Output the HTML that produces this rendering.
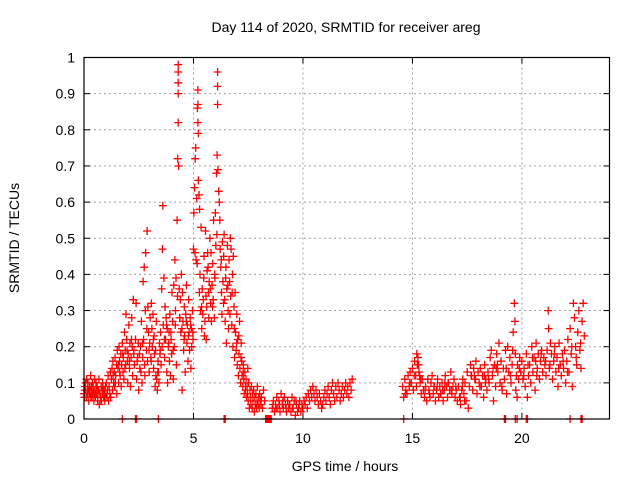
<!DOCTYPE html>
<html><head><meta charset="utf-8"><style>
html,body{margin:0;padding:0;background:#fff;}
svg{display:block;font-family:"Liberation Sans",sans-serif;}
</style></head><body>
<svg id="chart" width="640" height="480" viewBox="0 0 640 480">
<rect width="640" height="480" fill="#fff"/>
<text x="346" y="32" font-size="14" text-anchor="middle" fill="#000">Day 114 of 2020, SRMTID for receiver areg</text>
<text x="345" y="471" font-size="14" text-anchor="middle" fill="#000">GPS time / hours</text>
<text x="0" y="0" font-size="14" text-anchor="middle" fill="#000" transform="translate(19,238) rotate(-90)">SRMTID / TECUs</text>
<g id="grid"></g>
<g id="ticks"></g>
<g id="marks"></g>
<rect x="84" y="57.5" width="525.5" height="361.5" fill="none" stroke="#000" stroke-width="1.2"/>
</svg>
<script>
const xTicks = [0, 5, 10, 15, 20];
const yTicks = [0, 0.1, 0.2, 0.3, 0.4, 0.5, 0.6, 0.7, 0.8, 0.9, 1];
const yTickLabels = ["0","0.1","0.2","0.3","0.4","0.5","0.6","0.7","0.8","0.9","1"];
const times = [
0.00,0.02,0.05,0.08,0.10,0.12,0.15,0.18,0.20,0.22,
0.25,0.28,0.30,0.32,0.35,0.38,0.40,0.42,0.45,0.48,
0.50,0.52,0.55,0.58,0.60,0.62,0.65,0.68,0.70,0.72,
0.75,0.78,0.80,0.82,0.85,0.88,0.90,0.92,0.95,0.98,
1.00,1.02,1.05,1.08,1.10,1.12,1.15,1.18,1.20,1.22,
1.25,1.28,1.30,1.32,1.35,1.38,1.40,1.42,1.45,1.48,
1.50,1.52,1.55,1.58,1.60,1.62,1.65,1.68,1.70,1.72,
1.75,1.78,1.80,1.82,1.85,1.88,1.90,1.92,1.95,1.98,
2.00,2.02,2.05,2.08,2.10,2.12,2.15,2.18,2.20,2.22,
2.25,2.28,2.30,2.35,2.38,2.40,2.45,2.48,2.50,2.55,
2.58,2.60,2.62,2.65,2.68,2.70,2.72,2.75,2.78,2.80,
2.82,2.85,2.88,2.90,2.92,2.95,2.98,3.00,3.02,3.05,
3.08,3.10,3.12,3.15,3.18,3.20,3.22,3.25,3.28,3.30,
3.32,3.35,3.38,3.40,3.42,3.45,3.48,3.50,3.52,3.55,
3.58,3.60,3.62,3.65,3.68,3.70,3.72,3.75,3.78,3.80,
3.82,3.85,3.88,3.90,3.92,3.95,3.98,4.00,4.02,4.05,
4.08,4.10,4.12,4.15,4.18,4.20,4.22,4.25,4.28,4.30,
4.30,4.30,4.30,4.30,4.32,4.35,4.38,4.40,4.42,4.45,
4.48,4.50,4.52,4.55,4.58,4.60,4.62,4.65,4.68,4.70,
4.72,4.75,4.78,4.80,4.82,4.85,4.88,4.90,4.92,4.95,
4.98,5.00,5.02,5.05,5.08,5.10,5.12,5.15,5.18,5.20,
5.20,5.20,5.22,5.22,5.25,5.28,5.30,5.32,5.35,5.38,
5.40,5.42,5.45,5.48,5.50,5.52,5.55,5.58,5.60,5.62,
5.65,5.68,5.70,5.72,5.75,5.78,5.80,5.82,5.85,5.88,
5.90,5.92,5.95,5.98,6.00,6.02,6.05,6.08,6.10,6.10,
6.10,6.12,6.15,6.18,6.20,6.22,6.25,6.28,6.30,6.32,
6.35,6.38,6.40,6.42,6.45,6.48,6.50,6.52,6.55,6.58,
6.60,6.62,6.65,6.68,6.70,6.72,6.75,6.78,6.80,6.82,
6.85,6.88,6.90,6.92,6.95,6.98,7.00,7.02,7.05,7.08,
7.10,7.12,7.15,7.18,7.20,7.22,7.25,7.28,7.30,7.32,
7.35,7.38,7.40,7.42,7.45,7.48,7.50,7.52,7.55,7.58,
7.60,7.62,7.65,7.68,7.70,7.72,7.75,7.78,7.80,7.82,
7.85,7.88,7.90,7.92,7.95,7.98,8.00,8.02,8.05,8.08,
8.10,8.15,8.20,8.25,8.60,8.65,8.70,8.75,8.80,8.85,
8.90,8.95,9.00,9.05,9.10,9.15,9.20,9.25,9.30,9.35,
9.40,9.45,9.50,9.55,9.60,9.65,9.70,9.75,9.80,9.85,
9.90,9.95,10.00,10.05,10.10,10.15,10.20,10.25,10.30,10.35,
10.40,10.45,10.50,10.55,10.60,10.65,10.70,10.75,10.80,10.85,
10.90,10.95,11.00,11.05,11.10,11.15,11.20,11.25,11.30,11.35,
11.40,11.45,11.50,11.55,11.60,11.65,11.70,11.75,11.80,11.85,
11.90,11.95,12.00,12.05,12.10,12.15,12.20,12.25,14.55,14.60,
14.65,14.70,14.75,14.80,14.85,14.90,14.95,15.00,15.05,15.10,
15.15,15.20,15.22,15.25,15.30,15.35,15.40,15.45,15.50,15.55,
15.60,15.65,15.70,15.75,15.80,15.85,15.90,15.95,16.00,16.05,
16.10,16.15,16.20,16.25,16.30,16.35,16.40,16.45,16.50,16.55,
16.60,16.65,16.70,16.75,16.80,16.85,16.90,16.95,17.00,17.05,
17.10,17.15,17.20,17.25,17.30,17.35,17.40,17.45,17.50,17.55,
17.60,17.65,17.70,17.75,17.80,17.85,17.90,17.95,18.00,18.05,
18.10,18.15,18.20,18.25,18.30,18.35,18.40,18.45,18.50,18.55,
18.60,18.65,18.70,18.75,18.80,18.85,18.90,18.95,19.00,19.05,
19.10,19.15,19.20,19.25,19.30,19.35,19.40,19.45,19.50,19.55,
19.60,19.65,19.68,19.70,19.72,19.75,19.78,19.80,19.85,19.90,
19.95,20.00,20.05,20.10,20.15,20.20,20.25,20.30,20.35,20.40,
20.45,20.50,20.55,20.60,20.65,20.70,20.75,20.80,20.85,20.90,
20.95,21.00,21.05,21.10,21.15,21.20,21.22,21.25,21.30,21.35,
21.40,21.45,21.50,21.55,21.60,21.65,21.70,21.75,21.80,21.85,
21.90,21.95,22.00,22.05,22.10,22.15,22.20,22.25,22.30,22.35,
22.40,22.45,22.50,22.55,22.60,22.65,22.70,22.75,22.80,22.85,
0.03,0.07,0.13,0.17,0.23,0.27,0.33,0.37,0.43,0.47,
0.53,0.57,0.63,0.67,0.73,0.77,0.83,0.87,0.93,0.97,
8.63,8.78,8.93,9.08,9.23,9.38,9.53,9.68,9.83,9.98,
15.28,15.33,16.13,16.38,16.63,17.28,17.83,18.33,18.83,20.63,
1.33,1.43,1.57,1.63,1.77,1.87,1.97,2.07,2.17,2.27,
2.43,2.53,2.67,2.77,2.87,2.97,3.07,3.17,3.27,3.37,
3.47,3.57,3.67,3.77,3.87,3.97,4.07,4.17,4.27,4.37,
4.47,4.57,4.67,4.77,4.87,4.97,5.07,5.17,5.27,5.37,
5.47,5.57,5.67,5.77,5.87,5.97,6.07,6.27,6.37,6.47,
6.57,6.67,6.77,6.87,6.97,7.07,7.17,7.27,7.37,7.47,
14.68,14.88,15.08,15.18,15.38,15.58,15.78,15.98,16.28,16.48,
16.78,16.98,17.18,17.38,17.68,17.88,18.08,18.28,18.48,18.68,
18.88,19.08,19.28,19.48,19.58,19.88,20.08,20.28,20.48,20.68,
20.88,21.08,21.28,21.48,21.68,21.88,22.08,22.28,22.48,22.68,
1.75,2.35,2.40,3.40,6.40,6.45,8.30,8.35,8.40,8.45,
8.50,8.55,14.60,19.20,19.25,19.70,19.78,20.20,20.25,22.20,
22.70,22.75
];
const values = [
.07,.06,.09,.08,.06,.11,.07,.10,.08,.05,
.09,.07,.12,.06,.08,.10,.07,.09,.05,.11,
.08,.06,.10,.07,.09,.05,.08,.11,.04,.07,
.06,.09,.05,.08,.10,.07,.06,.08,.05,.09,
.07,.10,.06,.08,.12,.05,.09,.07,.13,.06,
.11,.14,.08,.16,.10,.13,.09,.17,.12,.15,
.07,.19,.14,.10,.20,.16,.12,.18,.09,.15,
.21,.13,.17,.11,.24,.19,.15,.29,.22,.16,
.10,.18,.26,.14,.21,.09,.17,.28,.20,.12,
.33,.19,.15,.22,.32,.11,.17,.21,.08,.14,
.20,.13,.27,.10,.17,.38,.22,.42,.12,.30,
.46,.19,.52,.16,.31,.24,.13,.21,.28,.17,
.32,.25,.20,.29,.14,.23,.18,.09,.12,.27,
.11,.08,.16,.13,.10,.21,.19,.24,.15,.36,
.47,.59,.26,.39,.17,.31,.22,.28,.13,.25,
.10,.20,.24,.16,.29,.12,.22,.18,.35,.27,
.11,.37,.20,.44,.30,.39,.15,.55,.72,.98,
.96,.93,.90,.82,.70,.36,.28,.33,.24,.40,
.08,.35,.27,.19,.31,.23,.13,.29,.37,.21,
.26,.16,.33,.24,.19,.28,.14,.25,.20,.30,
.22,.47,.57,.64,.72,.75,.44,.61,.86,.91,
.82,.87,.79,.66,.62,.58,.40,.30,.53,.25,
.36,.29,.33,.45,.23,.27,.52,.22,.31,.41,
.46,.35,.28,.38,.50,.32,.46,.27,.37,.43,
.33,.55,.28,.39,.57,.48,.68,.73,.96,.92,
.87,.69,.63,.60,.55,.47,.42,.35,.29,.49,
.38,.45,.51,.33,.27,.42,.21,.36,.48,.30,
.25,.44,.38,.50,.34,.47,.26,.40,.20,.45,
.31,.17,.35,.24,.19,.29,.15,.22,.12,.18,
.27,.14,.10,.21,.16,.12,.09,.15,.11,.07,
.13,.08,.11,.06,.09,.14,.05,.10,.03,.08,
.06,.04,.09,.03,.07,.05,.08,.02,.06,.04,
.07,.03,.05,.09,.04,.06,.03,.07,.05,.04,
.06,.03,.08,.05,.03,.05,.02,.04,.06,.03,
.05,.02,.07,.04,.03,.06,.04,.02,.05,.03,
.04,.02,.06,.03,.05,.01,.04,.02,.03,.05,
.02,.04,.03,.05,.04,.06,.03,.07,.05,.08,
.06,.09,.07,.05,.08,.06,.04,.07,.05,.03,
.04,.06,.08,.05,.07,.09,.06,.04,.08,.10,
.07,.05,.09,.06,.10,.08,.05,.07,.09,.06,
.08,.10,.07,.09,.06,.10,.08,.11,.09,.06,
.11,.08,.07,.12,.09,.13,.10,.14,.08,.16,
.12,.18,.15,.17,.13,.10,.07,.11,.08,.06,
.09,.05,.11,.08,.06,.10,.12,.07,.09,.05,
.08,.11,.06,.09,.07,.10,.05,.08,.12,.09,
.06,.10,.08,.13,.07,.09,.11,.06,.08,.05,
.09,.06,.04,.08,.11,.07,.10,.05,.13,.03,
.09,.15,.12,.08,.14,.11,.16,.07,.13,.10,
.14,.09,.12,.06,.15,.11,.08,.13,.10,.17,
.19,.12,.05,.15,.09,.18,.13,.21,.10,.16,
.08,.14,.11,.19,.07,.20,.13,.17,.10,.15,
.24,.32,.27,.18,.08,.12,.06,.15,.11,.17,
.13,.16,.11,.14,.09,.18,.06,.12,.15,.10,
.20,.13,.17,.08,.21,.14,.18,.11,.16,.19,
.13,.17,.15,.12,.19,.30,.25,.14,.21,.18,
.11,.16,.20,.13,.17,.09,.21,.15,.12,.18,
.14,.19,.10,.16,.22,.13,.25,.18,.09,.32,
.28,.20,.15,.24,.30,.19,.14,.27,.32,.23,
.08,.10,.06,.09,.07,.08,.09,.06,.08,.07,
.07,.09,.06,.08,.07,.05,.07,.09,.07,.06,
.04,.03,.04,.05,.03,.04,.03,.05,.04,.03,
.15,.12,.09,.08,.10,.09,.12,.10,.14,.16,
.12,.10,.15,.13,.18,.14,.19,.16,.22,.18,
.16,.18,.21,.15,.25,.19,.16,.22,.19,.13,
.18,.20,.22,.26,.21,.24,.19,.26,.34,.28,
.25,.22,.27,.23,.26,.24,.46,.43,.35,.31,
.39,.34,.42,.36,.31,.40,.51,.44,.32,.39,
.37,.29,.35,.25,.21,.23,.17,.13,.09,.07,
.07,.10,.12,.09,.11,.08,.07,.09,.07,.10,
.08,.09,.06,.05,.12,.11,.09,.12,.11,.14,
.15,.09,.14,.12,.19,.14,.12,.15,.17,.12,
.18,.16,.15,.18,.14,.16,.13,.20,.17,.21,
0,0,0,0,0,0,0,0,0,0,
0,0,0,0,0,0,0,0,0,0,
0,0
];
const X0 = 84, X1 = 609.5, Y0 = 419, Y1 = 57.5, XMAX = 24, YMAX = 1;
function xScale(h){ return X0 + (h / XMAX) * (X1 - X0); }
function yScale(v){ return Y0 - (v / YMAX) * (Y0 - Y1); }
const NS = "http://www.w3.org/2000/svg";
const grid = document.getElementById('grid');
const ticks = document.getElementById('ticks');
const marks = document.getElementById('marks');
function mk(tag, attrs, parent){
  const el = document.createElementNS(NS, tag);
  for (const k in attrs) el.setAttribute(k, attrs[k]);
  parent.appendChild(el);
  return el;
}
yTicks.forEach((v, i) => {
  const y = yScale(v);
  if (v > 0 && v < 1) {
    const g = mk('line', {x1:X0, x2:X1, y1:y, y2:y, stroke:'#a0a0a0', 'stroke-dasharray':'2,3', 'stroke-width':1}, grid);
    
    
  }
  const t1 = mk('line', {x1:X0, x2:X0+6, y1:y, y2:y, stroke:'#000'}, ticks);
  
  
  const t2 = mk('line', {x1:X1-6, x2:X1, y1:y, y2:y, stroke:'#000'}, ticks);
  
  
  const lb = mk('text', {x:X0-9, y:y+5, 'font-size':14, 'text-anchor':'end', fill:'#000'}, ticks);
  lb.textContent = yTickLabels[i];
  
  
});
xTicks.forEach(h => {
  const x = xScale(h);
  if (h > 0) {
    const g = mk('line', {x1:x, x2:x, y1:Y1, y2:Y0, stroke:'#a0a0a0', 'stroke-dasharray':'2,3', 'stroke-width':1}, grid);
    
    
  }
  const t1 = mk('line', {x1:x, x2:x, y1:Y0, y2:Y0-6, stroke:'#000'}, ticks);
  
  
  const t2 = mk('line', {x1:x, x2:x, y1:Y1, y2:Y1+6, stroke:'#000'}, ticks);
  
  
  const lb = mk('text', {x:x, y:Y0+24, 'font-size':14, 'text-anchor':'middle', fill:'#000'}, ticks);
  lb.textContent = String(h);
  
  
});
let d = '';
for (let i = 0; i < times.length; i++) {
  const x = xScale(times[i]), y = yScale(values[i]);
  d += 'M' + (x-4).toFixed(1) + ' ' + y.toFixed(1) + 'h8M' + x.toFixed(1) + ' ' + (y-4).toFixed(1) + 'v8';
}
const p = mk('path', {d:d, stroke:'#ff0000', 'stroke-width':1.3, fill:'none'}, marks);


</script>
</body></html>
